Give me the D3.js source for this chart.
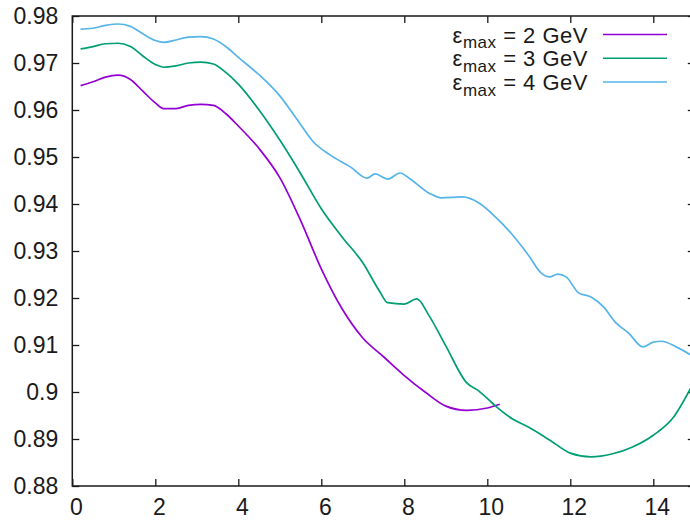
<!DOCTYPE html>
<html>
<head>
<meta charset="utf-8">
<script src="https://cdn.jsdelivr.net/npm/d3@7/dist/d3.min.js"></script>
<style>
  html, body { margin: 0; padding: 0; background: #fff; }
  svg { display: block; }
  text { font-family: "Liberation Sans", Arial, Helvetica, sans-serif; fill: #1a1a1a; }
</style>
</head>
<body>
<svg id="chart" width="690" height="520"></svg>
<script>
// ---- Data ----
const xTicks = [0, 2, 4, 6, 8, 10, 12, 14];
const yTicks = [0.88, 0.89, 0.9, 0.91, 0.92, 0.93, 0.94, 0.95, 0.96, 0.97, 0.98];
const yTickLabels = ["0.88", "0.89", "0.9", "0.91", "0.92", "0.93", "0.94", "0.95", "0.96", "0.97", "0.98"];
const seriesNames = ["2", "3", "4"];
const seriesColors = ["#9400d3", "#009e73", "#56b4e9"];

const emax2 = [
  [0.2, 0.9652], [0.5, 0.9660], [0.8, 0.9670], [1.1, 0.9674], [1.4, 0.9665],
  [1.7, 0.9640], [2.0, 0.9615], [2.2, 0.9603], [2.5, 0.9603], [2.8, 0.9610],
  [3.1, 0.9612], [3.4, 0.9610], [3.7, 0.9592], [4.0, 0.9566], [4.5, 0.9518],
  [5.0, 0.9456], [5.5, 0.9365], [6.0, 0.9262], [6.5, 0.9177], [7.0, 0.9115],
  [7.5, 0.9075], [8.0, 0.9035], [8.5, 0.9000], [9.0, 0.8970], [9.5, 0.8961],
  [10.0, 0.8966], [10.3, 0.8974]
];
const emax3 = [
  [0.2, 0.9730], [0.5, 0.9735], [0.8, 0.9741], [1.1, 0.9742], [1.4, 0.9735],
  [1.7, 0.9715], [2.0, 0.9697], [2.2, 0.9691], [2.5, 0.9694], [2.8, 0.9700],
  [3.1, 0.9702], [3.4, 0.9698], [3.7, 0.9680], [4.0, 0.9655], [4.5, 0.9600],
  [5.0, 0.9536], [5.5, 0.9465], [6.0, 0.9390], [6.5, 0.9330], [7.0, 0.9275],
  [7.4, 0.9215], [7.6, 0.9190], [8.0, 0.9187], [8.3, 0.9198], [8.6, 0.9162],
  [9.0, 0.9098], [9.5, 0.9020], [9.8, 0.9002], [10.2, 0.8970], [10.6, 0.8943],
  [11.0, 0.8925], [11.5, 0.8898], [12.0, 0.8870], [12.5, 0.8862], [13.0, 0.8868],
  [13.5, 0.8883], [14.0, 0.8908], [14.5, 0.8948], [14.9, 0.9008]
];
const emax4 = [
  [0.2, 0.9772], [0.5, 0.9774], [0.8, 0.9780], [1.1, 0.9783], [1.4, 0.9778],
  [1.7, 0.9762], [2.0, 0.9748], [2.2, 0.9744], [2.5, 0.9749], [2.8, 0.9755],
  [3.1, 0.9756], [3.4, 0.9751], [3.7, 0.9735], [4.0, 0.9712], [4.5, 0.9675],
  [5.0, 0.9630], [5.4, 0.9582], [5.8, 0.9533], [6.2, 0.9505], [6.7, 0.9479],
  [7.1, 0.9455], [7.3, 0.9464], [7.6, 0.9453], [7.9, 0.9466], [8.1, 0.9456],
  [8.6, 0.9423], [8.9, 0.9413], [9.4, 0.9415], [9.8, 0.9402], [10.2, 0.9372],
  [10.6, 0.9335], [11.0, 0.9290], [11.3, 0.9253], [11.5, 0.9245], [11.7, 0.9251],
  [11.9, 0.9245], [12.2, 0.9211], [12.5, 0.9202], [12.8, 0.9181], [13.1, 0.9147],
  [13.4, 0.9126], [13.75, 0.9096], [14.0, 0.9106], [14.2, 0.9108], [14.55, 0.9096],
  [14.9, 0.9079]
];
const allSeries = [emax2, emax3, emax4];

(function () {
  // ---- Layout ----
  const svg = d3.select("#chart");
  const pLeft = 72.3, pRight = 694.8, pTop = 16, pBottom = 486;
  const x = d3.scaleLinear().domain([0, 15]).range([pLeft, pRight]);
  const y = d3.scaleLinear().domain([0.88, 0.98]).range([pBottom, pTop]);
  const fontSize = 23;

  // axes (ticks point inward, gnuplot style)
  const gL = svg.append("g").attr("transform", `translate(${pLeft},0)`)
    .call(d3.axisLeft(y).tickValues(yTicks).tickFormat((d, i) => yTickLabels[i])
      .tickSizeInner(-7).tickSizeOuter(0).tickPadding(14));
  const gB = svg.append("g").attr("transform", `translate(0,${pBottom})`)
    .call(d3.axisBottom(x).tickValues(xTicks).tickFormat(d3.format("d"))
      .tickSizeInner(-7).tickSizeOuter(0).tickPadding(12.5));
  const gT = svg.append("g").attr("transform", `translate(0,${pTop})`)
    .call(d3.axisTop(x).tickValues(xTicks).tickFormat("")
      .tickSizeInner(-7).tickSizeOuter(0));
  const gR = svg.append("g").attr("transform", `translate(${pRight},0)`)
    .call(d3.axisRight(y).tickValues(yTicks).tickFormat("")
      .tickSizeInner(-7).tickSizeOuter(0));

  [gL, gB, gT, gR].forEach(g => {
    g.select(".domain").remove();
    g.selectAll(".tick line").attr("stroke", "#1a1a1a").attr("stroke-width", 1.3);
    g.selectAll(".tick text").attr("font-size", fontSize).attr("fill", "#1a1a1a")
      .attr("font-family", '"Liberation Sans", Arial, sans-serif');
  });
  gB.selectAll(".tick text").attr("dx", 3.5);

  // frame
  svg.append("rect")
    .attr("x", pLeft).attr("y", pTop)
    .attr("width", pRight - pLeft).attr("height", pBottom - pTop)
    .attr("fill", "none").attr("stroke", "#1a1a1a").attr("stroke-width", 1.5);

  // curves
  const line = d3.line().x(d => x(d[0])).y(d => y(d[1])).curve(d3.curveMonotoneX);
  svg.append("clipPath").attr("id", "clip")
    .append("rect").attr("x", pLeft).attr("y", pTop)
    .attr("width", pRight - pLeft).attr("height", pBottom - pTop);
  allSeries.forEach((s, i) => {
    svg.append("path").datum(s)
      .attr("d", line)
      .attr("fill", "none")
      .attr("stroke", seriesColors[i])
      .attr("stroke-width", 1.7)
      .attr("stroke-linejoin", "round")
      .attr("clip-path", "url(#clip)");
  });

  // legend
  const legY = [34.5, 58.3, 82];
  const legTextRight = 588, legLineX0 = 603, legLineX1 = 667;
  seriesNames.forEach((n, i) => {
    const t = svg.append("text")
      .attr("x", legTextRight).attr("y", legY[i] + 8)
      .attr("text-anchor", "end")
      .attr("font-size", 22)
      .attr("letter-spacing", 0.5);
    t.append("tspan").text("ε");
    t.append("tspan").attr("font-size", 17).attr("dy", 5.5).text("max");
    t.append("tspan").attr("dy", -5.5).text(` = ${n} GeV`);
    svg.append("line")
      .attr("x1", legLineX0).attr("x2", legLineX1)
      .attr("y1", legY[i]).attr("y2", legY[i])
      .attr("stroke", seriesColors[i]).attr("stroke-width", 1.6);
  });
})();
</script>
</body>
</html>
